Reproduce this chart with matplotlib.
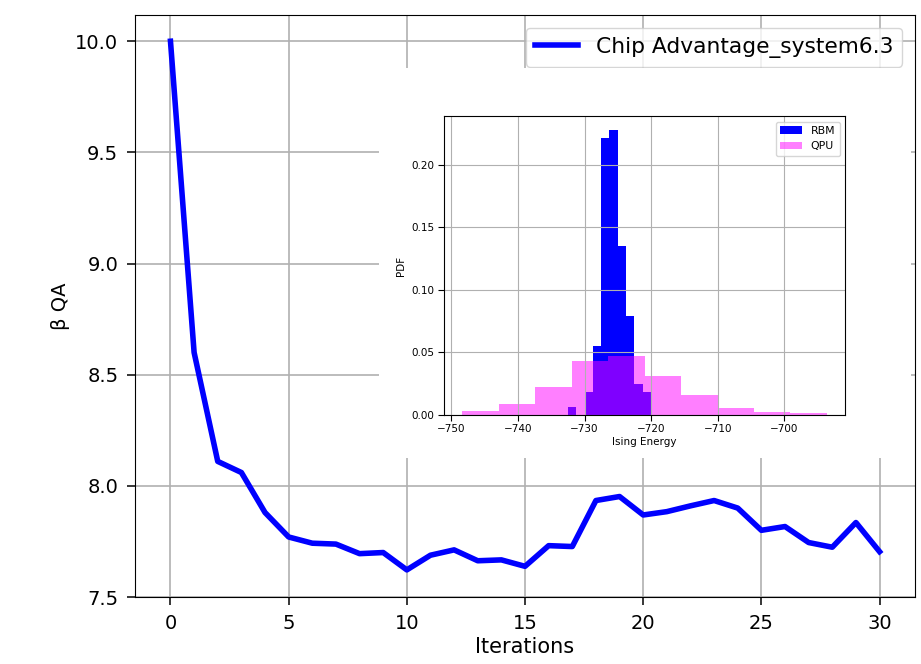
import numpy as np
import matplotlib
matplotlib.use("Agg")
import matplotlib.pyplot as plt
from matplotlib.patches import Rectangle

# beta estimate per training iteration
iterations = list(range(31))
beta_qa = [10.0, 8.60, 8.11, 8.06, 7.88, 7.77, 7.742, 7.738, 7.695, 7.70,
           7.622, 7.688, 7.712, 7.663, 7.667, 7.638, 7.731, 7.727, 7.934, 7.952,
           7.869, 7.884, 7.91, 7.934, 7.90, 7.80, 7.817, 7.745, 7.724, 7.835,
           7.704]

# Ising energy histograms (bin edges and normalised densities)
rbm_edges = np.linspace(-732.5, -720.0, 11)
rbm_pdf = [0.0061, 0.0, 0.0181, 0.055, 0.221, 0.2273, 0.1349, 0.0794, 0.0247, 0.0181]
qpu_edges = np.linspace(-748.39, -693.57, 11)
qpu_pdf = [0.0032, 0.0085, 0.022, 0.043, 0.047, 0.0308, 0.0159, 0.0058, 0.0021, 0.0013]

fig = plt.figure(figsize=(9.21, 6.64), dpi=100)
ax = fig.add_axes([0.1466, 0.1009, 0.8469, 0.8765])
ax.plot(iterations, beta_qa, color="blue", lw=4, label="Chip Advantage_system6.3")
ax.set_ylim(7.5, 10.118)
ax.set_xlabel("Iterations", fontsize=15, labelpad=3)
ax.set_ylabel("β QA", fontsize=14)
ax.tick_params(labelsize=14, length=5.5, pad=6.5, width=1.1)
ax.grid(True, lw=1.2)
ax.legend(loc="upper right", fontsize=15.7, borderaxespad=0.6)

# white backing behind the inset so the main grid doesn't show through
fig.patches.append(Rectangle((0.4115, 0.310), 0.578, 0.588, transform=fig.transFigure,
                             facecolor="white", edgecolor="none", zorder=1.5))

ins = fig.add_axes([0.482, 0.375, 0.4357, 0.450])
ins.set_zorder(2)
ins.hist(rbm_edges[:-1], bins=rbm_edges, weights=rbm_pdf, color="blue", label="RBM")
ins.hist(qpu_edges[:-1], bins=qpu_edges, weights=qpu_pdf, color="magenta", alpha=0.5, label="QPU")
ins.set_xlabel("Ising Energy", fontsize=7.5, labelpad=2)
ins.set_ylabel("PDF", fontsize=7.5)
ins.tick_params(labelsize=7.5, length=4, pad=2.7)
ins.grid(True)
ins.legend(loc="upper right", fontsize=7.8)

fig.savefig("out.png", dpi=100)
